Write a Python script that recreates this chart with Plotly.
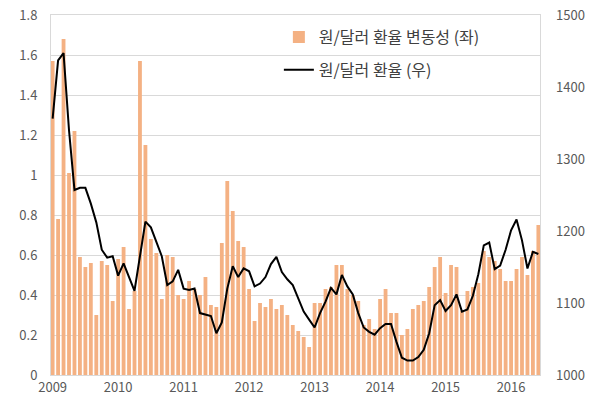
import plotly.graph_objects as go

years = [2009, 2010, 2011, 2012, 2013, 2014, 2015, 2016]
months = [f"{y}-{m:02d}" for y in years for m in range(1, 13)][:90]

# 원/달러 환율 변동성 (%, left axis)
volatility = [
    1.57, 0.78, 1.68, 1.01, 1.22, 0.59, 0.54, 0.56, 0.30, 0.57, 0.55, 0.37,   # 2009
    0.58, 0.64, 0.33, 0.42, 1.57, 1.15, 0.68, 0.61, 0.38, 0.60, 0.59, 0.40,   # 2010
    0.38, 0.47, 0.43, 0.40, 0.49, 0.35, 0.34, 0.66, 0.97, 0.82, 0.67, 0.64,   # 2011
    0.43, 0.27, 0.36, 0.34, 0.38, 0.33, 0.35, 0.30, 0.25, 0.22, 0.19, 0.14,   # 2012
    0.36, 0.36, 0.43, 0.44, 0.55, 0.55, 0.43, 0.40, 0.37, 0.25, 0.28, 0.23,   # 2013
    0.38, 0.43, 0.31, 0.31, 0.20, 0.23, 0.33, 0.35, 0.37, 0.44, 0.54, 0.59,   # 2014
    0.41, 0.55, 0.54, 0.32, 0.42, 0.44, 0.46, 0.62, 0.59, 0.57, 0.53, 0.47,   # 2015
    0.47, 0.53, 0.59, 0.50, 0.62, 0.75,                                       # 2016
]

# 원/달러 환율 (원, right axis)
exchange_rate = [
    1356, 1437, 1447, 1340, 1257, 1260, 1260, 1238, 1212, 1174, 1163, 1165,   # 2009
    1138, 1155, 1136, 1117, 1165, 1213, 1205, 1185, 1165, 1125, 1130, 1146,   # 2010
    1120, 1118, 1120, 1086, 1084, 1082, 1058, 1073, 1120, 1151, 1136, 1148,   # 2011
    1144, 1123, 1127, 1136, 1154, 1164, 1143, 1133, 1125, 1106, 1088, 1077,   # 2012
    1066, 1086, 1102, 1121, 1112, 1139, 1123, 1112, 1086, 1066, 1060, 1056,   # 2013
    1065, 1071, 1071, 1046, 1024, 1020, 1020, 1025, 1035, 1058, 1097, 1104,   # 2014
    1089, 1097, 1112, 1088, 1091, 1110, 1140, 1180, 1184, 1147, 1152, 1174,   # 2015
    1201, 1216, 1187, 1148, 1171, 1168,                                       # 2016
]

tick_months = [f"{y}-01" for y in years]
tick_labels = [str(y) for y in years]

bar_name = "원/달러 환율 변동성 (좌)"
line_name = "원/달러 환율 (우)"

font_family = "Noto Sans CJK KR"
grid = "#d9d9d9"
tick_color = "#595959"

fig = go.Figure()
fig.add_trace(go.Bar(
    x=months, y=volatility, name=bar_name,
    marker=dict(color="#F4B183", line=dict(width=0)),
    legendgroup="a",
))
fig.add_trace(go.Scatter(
    x=months, y=exchange_rate, name=line_name, yaxis="y2",
    mode="lines", line=dict(color="#000000", width=2),
    legendgroup="b",
))

fig.update_layout(
    width=601, height=403,
    margin=dict(l=51, r=61, t=15, b=28, autoexpand=False),
    paper_bgcolor="white", plot_bgcolor="white",
    font=dict(family=font_family, size=13, color=tick_color),
    bargap=0.3,
    showlegend=True,
    legend=dict(
        x=0.466, xanchor="left", y=0.986, yanchor="top",
        bgcolor="rgba(0,0,0,0)",
        font=dict(family=font_family, size=16, color="#404040"),
        traceorder="grouped", tracegroupgap=9,
        itemwidth=30,
    ),
    xaxis=dict(
        type="category",
        range=[-0.3, 89.3],
        tickmode="array", tickvals=tick_months, ticktext=tick_labels,
        showgrid=False, showline=True, linecolor=grid, mirror=True,
        ticks="", automargin=False,
        tickfont=dict(size=13, color=tick_color),
    ),
    yaxis=dict(
        range=[0, 1.8], dtick=0.2, tick0=0,
        showgrid=True, gridcolor=grid, gridwidth=1,
        showline=True, linecolor=grid, mirror=True,
        zeroline=False, ticks="", automargin=False,
        ticklabelstandoff=10,
        tickfont=dict(size=13, color=tick_color),
    ),
    yaxis2=dict(
        overlaying="y", side="right",
        range=[1000, 1500], dtick=100, tick0=1000,
        showgrid=False, showline=False, zeroline=False, ticks="",
        automargin=False,
        ticklabelstandoff=15,
        tickfont=dict(size=13, color=tick_color),
    ),
)

fig.write_html(
    "out.html",
    config={"displayModeBar": False},
    post_script="document.body.style.margin='0';document.body.style.padding='0';",
)
